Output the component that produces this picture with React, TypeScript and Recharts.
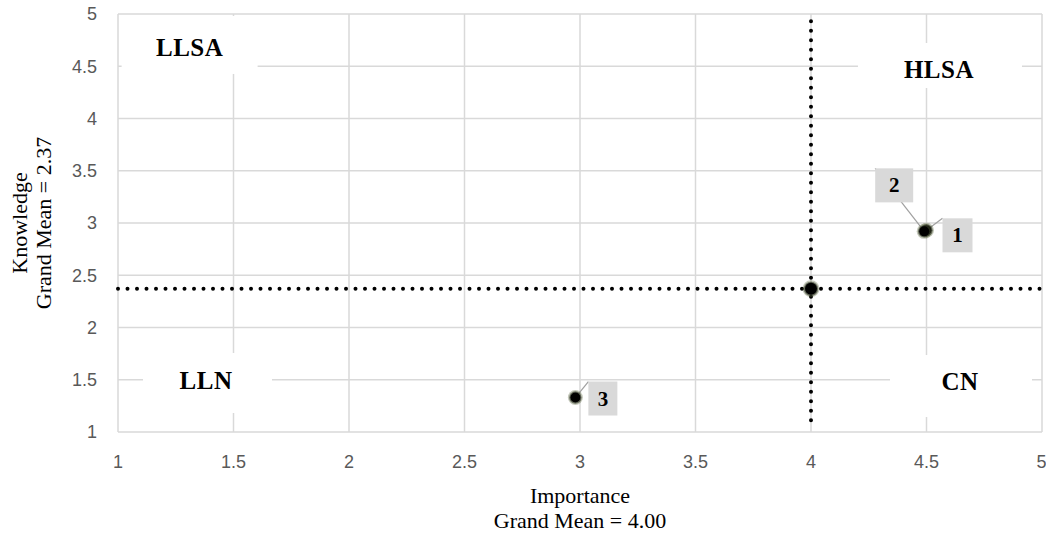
import React from "react";
import {
  ScatterChart,
  Scatter,
  XAxis,
  YAxis,
  CartesianGrid,
  ReferenceLine,
  ReferenceDot,
  Label,
} from "recharts";

document.body.style.margin = "0";

// survey items: importance vs knowledge means
const itemIds = ["1", "2", "3"];
const importance = [4.5, 4.49, 2.98];
const knowledge = [2.93, 2.92, 1.33];

const grandMeanImportance = 4.0;
const grandMeanKnowledge = 2.37;

const xTicks = [1, 1.5, 2, 2.5, 3, 3.5, 4, 4.5, 5];
const yTicks = [1, 1.5, 2, 2.5, 3, 3.5, 4, 4.5, 5];

// quadrant names and where they sit (data units)
const quadrantNames = ["LLSA", "HLSA", "LLN", "CN"];
const quadrantX = [1.31, 4.554, 1.381, 4.645];
const quadrantY = [4.675, 4.464, 1.488, 1.478];

const SERIF = "'Liberation Serif', 'Times New Roman', serif";
const SANS = "'Liberation Sans', Arial, sans-serif";

// white boxes behind quadrant names (px, relative to text centre)
const quadrantBoxes = [
  { x: -68, y: -32, w: 136, h: 58 },
  { x: -81, y: -27, w: 164, h: 45 },
  { x: -63, y: -28, w: 129, h: 60 },
  { x: -70, y: -27, w: 142, h: 62 },
];

// data label boxes (px, relative to point)
const labelBoxes = [
  { x: 16, y: -12, w: 30, h: 34 },
  { x: -49, y: -63, w: 38, h: 34 },
  { x: 13, y: -16, w: 29, h: 34 },
];

const points = itemIds.map((id, i) => ({
  id,
  idx: i,
  importance: importance[i],
  knowledge: knowledge[i],
}));

const meanPoint = [
  { importance: grandMeanImportance, knowledge: grandMeanKnowledge },
];

function Dot({ cx, cy, r }: { cx: number; cy: number; r: number }) {
  return (
    <g>
      <circle cx={cx} cy={cy} r={r + 2.5} fill="#55603a" opacity={0.35} />
      <circle cx={cx} cy={cy} r={r + 1.2} fill="#2a3020" opacity={0.6} />
      <circle cx={cx} cy={cy} r={r} fill="#000" />
    </g>
  );
}

function ItemShape(props: any) {
  const { cx, cy, payload } = props;
  const b = labelBoxes[payload.idx];
  const bx = cx + b.x;
  const by = cy + b.y;
  return (
    <g>
      <line x1={cx} y1={cy} x2={bx} y2={by} stroke="#a0a0a0" strokeWidth={1.2} />
      <rect x={bx} y={by} width={b.w} height={b.h} fill="#d9d9d9" />
      <text
        x={bx + b.w / 2}
        y={by + b.h / 2 + 7}
        textAnchor="middle"
        fontFamily={SERIF}
        fontWeight="bold"
        fontSize={21}
        fill="#000"
      >
        {payload.id}
      </text>
      <Dot cx={cx} cy={cy} r={5} />
    </g>
  );
}

function MeanShape(props: any) {
  return <Dot cx={props.cx} cy={props.cy} r={6} />;
}

function QuadrantLabel(i: number) {
  return (props: any) => {
    const { cx, cy } = props;
    const b = quadrantBoxes[i];
    return (
      <g>
        <rect x={cx + b.x} y={cy + b.y} width={b.w} height={b.h} fill="#fff" />
        <text
          x={cx}
          y={cy + 8}
          textAnchor="middle"
          fontFamily={SERIF}
          fontWeight="bold"
          fontSize={25}
          letterSpacing={0.5}
          fill="#000"
        >
          {quadrantNames[i]}
        </text>
      </g>
    );
  };
}

function DottedLine(props: any) {
  const { x1, y1, x2, y2 } = props;
  return (
    <line
      x1={x1}
      y1={y1}
      x2={x2}
      y2={y2}
      stroke="#000"
      strokeWidth={4}
      strokeDasharray="0 9.5"
      strokeLinecap="round"
    />
  );
}

function YTick(props: any) {
  const { x, y, payload } = props;
  return (
    <text
      x={x - 13}
      y={y}
      dy="0.35em"
      textAnchor="end"
      fill="#595959"
      fontSize={18}
      fontFamily={SANS}
    >
      {payload.value}
    </text>
  );
}

function XTitle(props: any) {
  const { viewBox } = props;
  const cx = viewBox.x + viewBox.width / 2;
  return (
    <g fontFamily={SERIF} fontSize={22} fill="#000">
      <text x={cx} y={503} textAnchor="middle">
        Importance
      </text>
      <text x={cx} y={528} textAnchor="middle">
        Grand Mean = 4.00
      </text>
    </g>
  );
}

function YTitle(props: any) {
  const { viewBox } = props;
  const cy = viewBox.y + viewBox.height / 2;
  return (
    <g fontFamily={SERIF} fontSize={22} fill="#000">
      <text x={27} y={cy} textAnchor="middle" transform={`rotate(-90 27 ${cy})`}>
        Knowledge
      </text>
      <text x={51} y={cy} textAnchor="middle" transform={`rotate(-90 51 ${cy})`}>
        Grand Mean = 2.37
      </text>
    </g>
  );
}

export default function App() {
  return (
    <div style={{ width: 1046, height: 535, background: "#fff" }}>
      <ScatterChart
        width={1046}
        height={535}
        margin={{ top: 14, right: 4, bottom: 0, left: 58 }}
      >
        <CartesianGrid stroke="#d9d9d9" strokeWidth={1.5} />
        <XAxis
          type="number"
          dataKey="importance"
          domain={[1, 5]}
          ticks={xTicks}
          axisLine={false}
          tickLine={false}
          tickMargin={17}
          height={103}
          tick={{ fill: "#595959", fontSize: 18, fontFamily: SANS }}
        >
          <Label content={XTitle} />
        </XAxis>
        <YAxis
          type="number"
          dataKey="knowledge"
          domain={[1, 5]}
          ticks={yTicks}
          axisLine={false}
          tickLine={false}
          width={60}
          tick={YTick}
        >
          <Label content={YTitle} />
        </YAxis>
        {quadrantNames.map((name, i) => (
          <ReferenceDot
            key={name}
            x={quadrantX[i]}
            y={quadrantY[i]}
            shape={QuadrantLabel(i)}
          />
        ))}
        <ReferenceLine
          segment={[
            { x: 1, y: grandMeanKnowledge },
            { x: 5, y: grandMeanKnowledge },
          ]}
          shape={DottedLine}
        />
        <ReferenceLine
          segment={[
            { x: grandMeanImportance, y: 4.93 },
            { x: grandMeanImportance, y: 1.09 },
          ]}
          shape={DottedLine}
        />
        <Scatter data={meanPoint} shape={MeanShape} isAnimationActive={false} />
        <Scatter data={points} shape={ItemShape} isAnimationActive={false} />
      </ScatterChart>
    </div>
  );
}
